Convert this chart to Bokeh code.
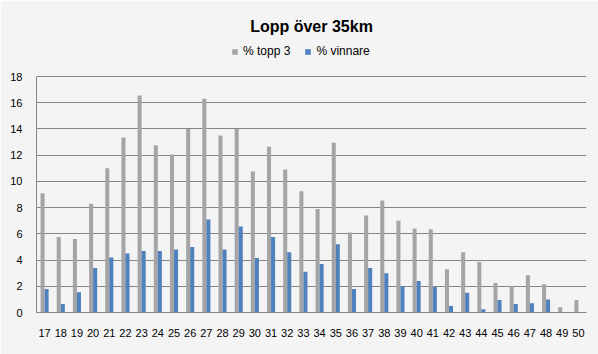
from bokeh.plotting import figure
from bokeh.models import ColumnDataSource, FactorRange, Legend, LegendItem, FixedTicker
from bokeh.transform import dodge
from bokeh.embed import file_html
from bokeh.resources import INLINE

categories = [str(v) for v in range(17, 51)]
topp3 = [9.1, 5.75, 5.6, 8.3, 11.0, 13.35, 16.55, 12.75, 12.05, 14.0,
         16.3, 13.5, 14.0, 10.75, 12.65, 10.9, 9.25, 7.9, 12.95, 6.1,
         7.4, 8.55, 7.0, 6.4, 6.35, 3.3, 4.6, 3.85, 2.25, 2.0,
         2.85, 2.15, 0.4, 0.95]
vinnare = [1.8, 0.65, 1.55, 3.4, 4.2, 4.5, 4.7, 4.7, 4.8, 5.0,
           7.1, 4.8, 6.55, 4.15, 5.75, 4.6, 3.1, 3.7, 5.2, 1.8,
           3.4, 3.0, 2.0, 2.4, 1.95, 0.5, 1.5, 0.25, 0.95, 0.65,
           0.7, 1.0, 0.0, 0.0]
y_ticks = [0, 2, 4, 6, 8, 10, 12, 14, 16, 18]

src = ColumnDataSource(dict(cat=categories, topp3=topp3, vinnare=vinnare))

bg = "#F4F4F4"
# frame spans canvas y 40..312; value 18 sits at y=76 (13.11 px per unit)
p = figure(x_range=FactorRange(*categories), y_range=(0, 272 / (236 / 18)),
           width=598, height=354, output_backend="svg", toolbar_location=None,
           min_border_left=36, min_border_right=12, min_border_top=40, min_border_bottom=42)
p.background_fill_color = bg
p.border_fill_color = bg
p.outline_line_color = None
p.x_range.range_padding = 0

r1 = p.vbar(x=dodge('cat', -0.125, range=p.x_range), top='topp3', width=0.25,
            source=src, fill_color="#A5A5A5", line_color=None)
r2 = p.vbar(x=dodge('cat', 0.125, range=p.x_range), top='vinnare', width=0.25,
            source=src, fill_color="#4F81BD", line_color=None)

p.title.text = "Lopp över 35km"
p.title.align = "center"
p.title.text_font = "Liberation Sans"
p.title.text_font_size = "16px"
p.title.text_font_style = "bold"
p.title.text_color = "#000000"
p.title.offset = 12
p.title.standoff = 12

legend = Legend(items=[LegendItem(label="% topp 3", renderers=[r1]),
                       LegendItem(label="% vinnare", renderers=[r2])],
                orientation="horizontal", location=(195, 254))
legend.background_fill_alpha = 0
legend.border_line_color = None
legend.label_text_font = "Liberation Sans"
legend.label_text_font_size = "12px"
legend.label_text_color = "#000000"
legend.glyph_width = 7
legend.glyph_height = 7
legend.label_standoff = 5
legend.spacing = 14
legend.padding = 2
legend.margin = 0
p.add_layout(legend)

p.yaxis.ticker = FixedTicker(ticks=y_ticks)
p.yaxis.bounds = (0, 18)
for ax in (p.xaxis, p.yaxis):
    ax.axis_line_color = "#868686"
    ax.major_tick_line_color = None
    ax.minor_tick_line_color = None
    ax.major_tick_out = 0
    ax.major_tick_in = 0
    ax.major_label_text_font = "Liberation Sans"
    ax.major_label_text_font_size = "11px"
    ax.major_label_text_color = "#000000"
p.yaxis.major_label_standoff = 14
p.xaxis.major_label_standoff = 16
p.xgrid.grid_line_color = None
p.ygrid.grid_line_color = "#868686"
p.ygrid.grid_line_width = 1

open("out.html", "w").write(file_html(p, INLINE))
